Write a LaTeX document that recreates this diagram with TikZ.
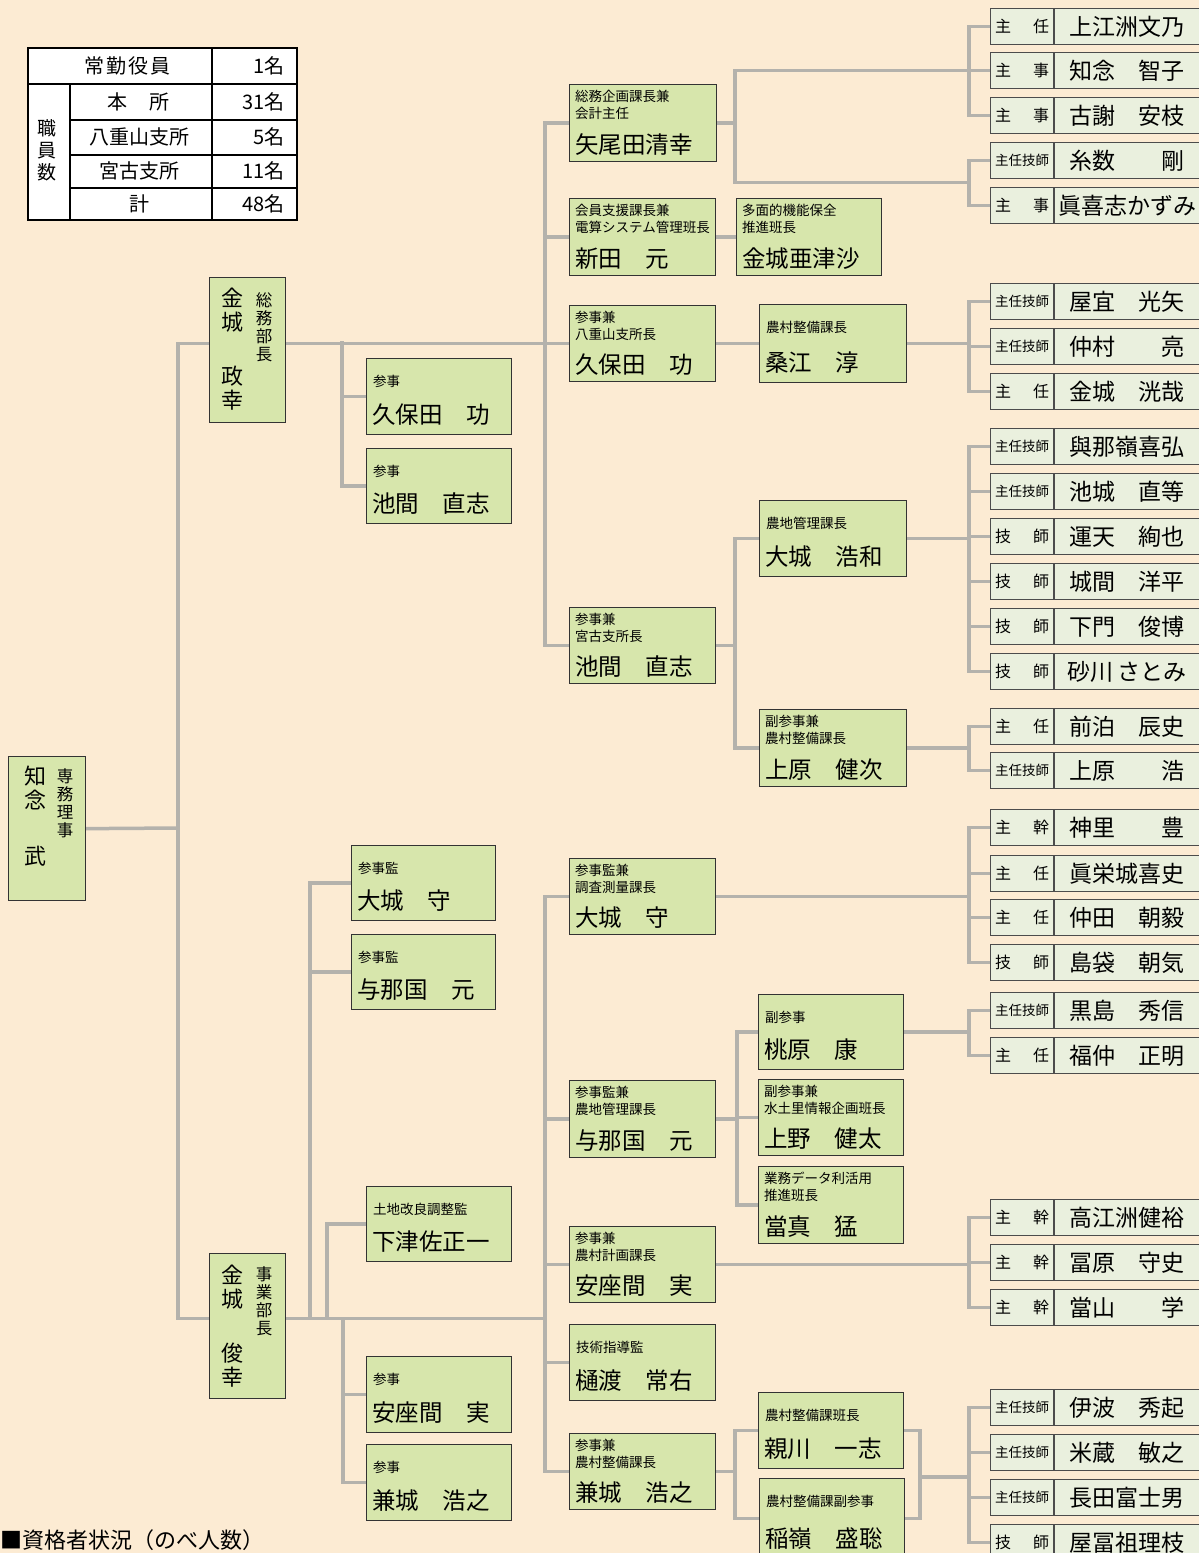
\documentclass[tikz,border=0pt]{standalone}
\usepackage{fontspec}
\setmainfont{Noto Sans CJK JP}
\usetikzlibrary{calc}
\definecolor{bgc}{RGB}{252,235,211}
\definecolor{boxg}{RGB}{215,230,172}
\definecolor{rboxc}{RGB}{234,240,222}
\definecolor{lineg}{RGB}{180,178,172}
\pgfdeclarelayer{back}
\pgfdeclarelayer{lines}
\pgfsetlayers{back,lines,main}
\newcommand{\smt}{\fontsize{13.5}{14}\selectfont}
\newcommand{\tw}[2]{#1\hspace{22pt}#2}
\tikzset{
 gbox/.style={draw=black!80, fill=boxg, line width=1.3pt, inner sep=0pt, anchor=north west},
 rbx/.style={draw=black!70, fill=rboxc, line width=1.2pt, inner sep=0pt, anchor=north west, minimum width=216pt, minimum height=36pt},
 conn/.style={draw=lineg, line width=3.5pt, line cap=rect},
 ttl/.style={inner sep=0pt, align=left, font=\fontsize{13.5}{16.5}\selectfont, anchor=north west},
 nm/.style={inner sep=0pt, font=\fontsize{23.5}{26}\selectfont, anchor=south west},
 rt/.style={inner sep=0pt, font=\fontsize{16}{17}\selectfont},
 rn/.style={inner sep=0pt, font=\fontsize{23}{25}\selectfont},
 tb/.style={inner sep=0pt, font=\fontsize{20}{22}\selectfont},
 tbl/.style={draw=black, line width=1.4pt},
 vn/.style={inner sep=0pt, align=center, font=\fontsize{22}{24}\selectfont, anchor=north},
 vt/.style={inner sep=0pt, align=center, font=\fontsize{16.5}{18}\selectfont, anchor=north},
}
% 3-line box: id, x, y, w, h, title, name
\newcommand{\boxC}[7]{%
 \node[gbox, minimum width=#4pt, minimum height=#5pt] (#1) at (#2,#3) {};
 \node[ttl] (#1-t) at ([xshift=6pt,yshift=-6pt]#1.north west) {#6};
 \node[nm] (#1-n) at ([xshift=6pt,yshift=7pt]#1.south west) {#7};
}
% 2-line box
\newcommand{\boxB}[7]{%
 \node[gbox, minimum width=#4pt, minimum height=#5pt] (#1) at (#2,#3) {};
 \node[ttl] (#1-t) at ([xshift=7pt,yshift=-17pt]#1.north west) {#6};
 \node[nm] (#1-n) at ([xshift=6pt,yshift=10pt]#1.south west) {#7};
}
% right column box: id, ytop, title, name
\newcommand{\rb}[4]{%
 \node[rbx] (#1) at (990,#2) {};
 \draw[draw=black!70, line width=1.2pt] ([xshift=64pt]#1.north west) -- ([xshift=64pt]#1.south west);
 \node[rt] (#1-t) at ([xshift=32pt]#1.west) {#3};
 \node[rn] (#1-n) at ([xshift=137pt]#1.west) {#4};
}
\begin{document}
\begin{tikzpicture}[x=1pt,y=-1pt]
\begin{pgfonlayer}{back}
\fill[bgc] (0,0) rectangle (1199,1553);
\end{pgfonlayer}
\useasboundingbox (0,0) rectangle (1199,1553);

% ---------- table ----------
\filldraw[tbl, fill=white] (28,48) rectangle (297,220);
\draw[tbl] (28,84) -- (297,84);
\draw[tbl] (70,120) -- (297,120);
\draw[tbl] (70,155) -- (297,155);
\draw[tbl] (70,188) -- (297,188);
\draw[tbl] (70,84) -- (70,220);
\draw[tbl] (212,48) -- (212,220);
\node[tb] (t-jokin) at (127,66) {常\hspace{2pt}勤\hspace{2pt}役\hspace{2pt}員};
\node[tb] (t-hon) at (138,102) {本\hspace{22pt}所};
\node[tb] (t-yae) at (139,137) {八重山支所};
\node[tb] (t-miya) at (139,171) {宮古支所};
\node[tb] (t-kei) at (139,204) {計};
\node[tb, anchor=east] (n1) at (285,66) {1名};
\node[tb, anchor=east] (n2) at (285,102) {31名};
\node[tb, anchor=east] (n3) at (285,137) {5名};
\node[tb, anchor=east] (n4) at (285,171) {11名};
\node[tb, anchor=east] (n5) at (285,204) {48名};
\node[tb, align=center, font=\fontsize{19}{22}\selectfont] (t-shoku) at (47,150) {職\\員\\数};

% ---------- left column ----------
\node[gbox, minimum width=77pt, minimum height=144pt] (chinen) at (8,756) {};
\node[vn] (chinen-n) at ([xshift=27pt,yshift=-10pt]chinen.north west) {知\\念\\[32pt]武};
\node[vt] (chinen-t) at ([xshift=57pt,yshift=-12pt]chinen.north west) {専\\務\\理\\事};

\node[gbox, minimum width=76pt, minimum height=145pt] (soumu) at (209,277) {};
\node[vn] (soumu-n) at ([xshift=23pt,yshift=-11pt]soumu.north west) {金\\城\\[30pt]政\\幸};
\node[vt] (soumu-t) at ([xshift=55pt,yshift=-15pt]soumu.north west) {総\\務\\部\\長};

\node[gbox, minimum width=76pt, minimum height=145pt] (jigyo) at (209,1253) {};
\node[vn] (jigyo-n) at ([xshift=23pt,yshift=-12pt]jigyo.north west) {金\\城\\[30pt]俊\\幸};
\node[vt] (jigyo-t) at ([xshift=55pt,yshift=-13pt]jigyo.north west) {事\\業\\部\\長};

\boxB{sanji1}{366}{358}{145}{76}{参事}{久保田　功}
\boxB{sanji2}{366}{448}{145}{75}{参事}{池間　直志}
\boxB{kanshi1}{351}{845}{144}{75}{参事監}{大城　守}
\boxB{kanshi2}{351}{934}{144}{75}{参事監}{与那国　元}
\boxB{shimoz}{366}{1186}{145}{75}{土地改良調整監}{下津佐正一}
\boxB{sanji3}{366}{1356}{145}{76}{参事}{安座間　実}
\boxB{sanji4}{366}{1444}{145}{76}{参事}{兼城　浩之}

% ---------- column 2 ----------
\boxC{yao}{569}{84}{147}{77}{総務企画課長兼\\会計主任}{矢尾田清幸}
\boxC{nitta}{569}{198}{146}{77}{会員支援課長兼\\電算システム管理班長}{新田　元}
\boxC{tamen}{736}{198}{145}{77}{多面的機能保全\\推進班長}{金城亜津沙}
\boxC{kubota2}{569}{305}{146}{76}{参事兼\\八重山支所長}{久保田　功}
\boxB{kuwae}{759}{304}{147}{78}{農村整備課長}{桑江　淳}
\boxC{ikema2}{569}{607}{146}{76}{参事兼\\宮古支所長}{池間　直志}
\boxB{oshiro1}{759}{500}{147}{76}{農地管理課長}{大城　浩和}
\boxC{uehara}{759}{709}{147}{77}{副参事兼\\農村整備課長}{上原　健次}
\boxC{oshiro2}{569}{858}{146}{76}{参事監兼\\調査測量課長}{大城　守}
\boxB{toubaru}{758}{994}{145}{75}{副参事}{桃原　康}
\boxC{yonaguni2}{569}{1080}{146}{77}{参事監兼\\農地管理課長}{与那国　元}
\boxC{ueno}{758}{1079}{145}{76}{副参事兼\\水土里情報企画班長}{上野　健太}
\boxC{touma}{758}{1166}{145}{77}{業務データ利活用\\推進班長}{當真　猛}
\boxC{azama2}{569}{1226}{146}{76}{参事兼\\農村計画課長}{安座間　実}
\boxB{hiwatashi}{569}{1324}{146}{76}{技術指導監}{樋渡　常右}
\boxC{kaneshiro2}{569}{1433}{146}{76}{参事兼\\農村整備課長}{兼城　浩之}
\boxB{oyakawa}{758}{1392}{145}{76}{農村整備課班長}{親川　一志}
\boxB{inamine}{759}{1478}{145}{80}{農村整備課副参事}{稲嶺　盛聡}

% ---------- right column ----------
\rb{r1}{8}{\tw{主}{任}}{上江洲文乃}
\rb{r2}{52}{\tw{主}{事}}{知念　智子}
\rb{r3}{97}{\tw{主}{事}}{古謝　安枝}
\rb{r4}{142}{\smt 主任技師}{糸数　　剛}
\rb{r5}{187}{\tw{主}{事}}{眞喜志かずみ}
\rb{r6}{283}{\smt 主任技師}{屋宜　光矢}
\rb{r7}{328}{\smt 主任技師}{仲村　　亮}
\rb{r8}{373}{\tw{主}{任}}{金城　洸哉}
\rb{r9}{428}{\smt 主任技師}{與那嶺喜弘}
\rb{r10}{473}{\smt 主任技師}{池城　直等}
\rb{r11}{518}{\tw{技}{師}}{運天　絢也}
\rb{r12}{563}{\tw{技}{師}}{城間　洋平}
\rb{r13}{608}{\tw{技}{師}}{下門　俊博}
\rb{r14}{653}{\tw{技}{師}}{砂川\,さとみ}
\rb{r15}{708}{\tw{主}{任}}{前泊　辰史}
\rb{r16}{752}{\smt 主任技師}{上原　　浩}
\rb{r17}{809}{\tw{主}{幹}}{神里　　豊}
\rb{r18}{855}{\tw{主}{任}}{眞栄城喜史}
\rb{r19}{899}{\tw{主}{任}}{仲田　朝毅}
\rb{r20}{944}{\tw{技}{師}}{島袋　朝気}
\rb{r21}{992}{\smt 主任技師}{黒島　秀信}
\rb{r22}{1037}{\tw{主}{任}}{福仲　正明}
\rb{r23}{1199}{\tw{主}{幹}}{高江洲健裕}
\rb{r24}{1244}{\tw{主}{幹}}{冨原　守史}
\rb{r25}{1289}{\tw{主}{幹}}{當山　　学}
\rb{r26}{1389}{\smt 主任技師}{伊波　秀起}
\rb{r27}{1434}{\smt 主任技師}{米蔵　敏之}
\rb{r28}{1479}{\smt 主任技師}{長田富士男}
\rb{r29}{1524}{\tw{技}{師}}{屋冨祖理枝}

% bottom caption
\node[inner sep=0pt, anchor=south west, font=\fontsize{22}{24}\selectfont] (caption) at (0,1551) {■資格者状況（のべ人数）};

% ---------- connectors ----------
\begin{pgfonlayer}{lines}
\coordinate (bxA) at (178,828);
\coordinate (jW) at ([yshift=7.5pt]jigyo.west);
\coordinate (jE) at ([yshift=7.5pt]jigyo.east);
\coordinate (t2) at (545,0);
\coordinate (t3) at (735,0);
\coordinate (t4) at (737,0);
\coordinate (t5) at (920,0);
\coordinate (x9) at (969,0);
\coordinate (c310) at (310,0);
\coordinate (c327) at (327,0);
\coordinate (c343) at (343,0);
\coordinate (j1) at (342,343);
\coordinate (m45) at (969,182.5);
\coordinate (m9) at (920,1477);

\draw[conn] (chinen.east) -- (bxA);
\draw[conn] (soumu.west |- kubota2.west) -| (bxA) |- (jW);

\draw[conn] (soumu.east |- kubota2.west) -- (kubota2.west);
\draw[conn] (j1) |- (sanji1.west);
\draw[conn] (j1) |- (sanji2.west);

\draw[conn] (yao.west) -- (yao.west -| t2) |- (ikema2.west);
\draw[conn] (nitta.west) -- (nitta.west -| t2);

\draw[conn] (yao.east) -- (yao.east -| t3);
\draw[conn] (r2.west) -- (r2.west -| t3) -- (t3 |- m45) -- (m45);
\draw[conn] (r1.west) -- (r1.west -| x9) |- (r3.west);
\draw[conn] (r4.west) -- (r4.west -| x9) |- (r5.west);

\draw[conn] (nitta.east) -- (tamen.west);
\draw[conn] (kubota2.east) -- (kuwae.west);
\draw[conn] (kuwae.east) -- (kuwae.east -| x9);
\draw[conn] (r6.west) -- (r6.west -| x9) |- (r8.west);
\draw[conn] (r7.west) -- (r7.west -| x9);

\draw[conn] (ikema2.east) -- (ikema2.east -| t3);
\draw[conn] (oshiro1.west) -- (oshiro1.west -| t3) |- (uehara.west);
\draw[conn] (oshiro1.east) -- (oshiro1.east -| x9);
\draw[conn] (r9.west) -- (r9.west -| x9) |- (r14.west);
\foreach \r in {r10,r11,r12,r13} \draw[conn] (\r.west) -- (\r.west -| x9);
\draw[conn] (uehara.east) -- (uehara.east -| x9);
\draw[conn] (r15.west) -- (r15.west -| x9) |- (r16.west);

\draw[conn] (jE) -- (jE -| t2);
\draw[conn] (oshiro2.west) -- (oshiro2.west -| t2) |- (kaneshiro2.west);
\draw[conn] (yonaguni2.west) -- (yonaguni2.west -| t2);
\draw[conn] (azama2.west) -- (azama2.west -| t2);
\draw[conn] (hiwatashi.west) -- (hiwatashi.west -| t2);

\draw[conn] (kanshi1.west) -| (jE -| c310);
\draw[conn] (kanshi2.west) -- (kanshi2.west -| c310);
\draw[conn] (shimoz.west) -| (jE -| c327);
\draw[conn] (sanji4.west) -| (jE -| c343);
\draw[conn] (sanji3.west) -- (sanji3.west -| c343);

\draw[conn] (oshiro2.east) -- (oshiro2.east -| x9);
\draw[conn] (r17.west) -- (r17.west -| x9) |- (r20.west);
\foreach \r in {r18,r19} \draw[conn] (\r.west) -- (\r.west -| x9);

\draw[conn] (yonaguni2.east) -- (yonaguni2.east -| t4);
\draw[conn] (toubaru.west) -- (toubaru.west -| t4) |- (touma.west);
\draw[conn] (ueno.west) -- (ueno.west -| t4);
\draw[conn] (toubaru.east) -- (toubaru.east -| x9);
\draw[conn] (r21.west) -- (r21.west -| x9) |- (r22.west);

\draw[conn] (azama2.east) -- (azama2.east -| x9);
\draw[conn] (r23.west) -- (r23.west -| x9) |- (r25.west);
\draw[conn] (r24.west) -- (r24.west -| x9);

\draw[conn] (kaneshiro2.east) -- (kaneshiro2.east -| t3);
\draw[conn] (oyakawa.west) -- (oyakawa.west -| t3) |- (inamine.west);
\draw[conn] (oyakawa.east) -- (oyakawa.east -| t5) |- (inamine.east);
\draw[conn] (m9) -- (m9 -| x9);
\draw[conn] (r26.west) -- (r26.west -| x9) |- (r29.west);
\foreach \r in {r27,r28} \draw[conn] (\r.west) -- (\r.west -| x9);
\end{pgfonlayer}
\end{tikzpicture}
\end{document}
